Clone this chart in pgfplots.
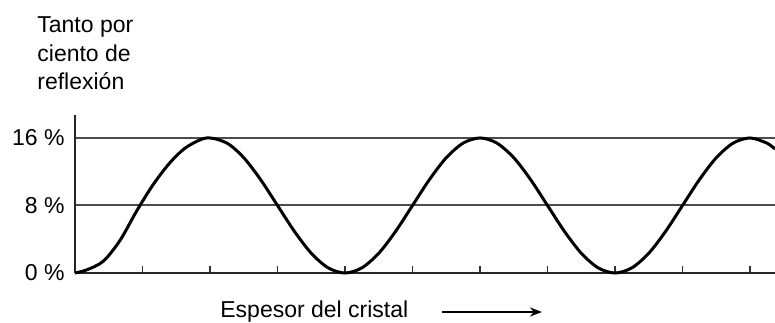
\documentclass[border=0pt]{standalone}
\usepackage{fontspec}
\setmainfont{Liberation Sans}
\usepackage{pgfplots}
\pgfplotsset{compat=1.18}
\usetikzlibrary{arrows.meta}

\begin{document}
\begin{tikzpicture}
\path[use as bounding box] (-37.5pt,-24.5pt) rectangle (350pt,136.5pt);
\begin{axis}[
    at={(0,0)}, anchor=south west,
    scale only axis,
    width=350pt, height=79pt,
    xmin=0, xmax=10.37,
    ymin=0, ymax=18.72,
    axis x line=bottom,
    axis y line=left,
    axis line style={-, line width=1.2pt, black!85},
    xtick={1,2,...,10},
    xticklabels={},
    tick align=inside,
    major tick length=3.5pt,
    xtick style={line width=0.9pt, black!80},
    ytick={0,8,16},
    yticklabels={0 \%, 8 \%, 16 \%},
    ytick style={draw=none},
    yticklabel style={anchor=east, inner sep=0pt, xshift=-5pt},
    tick label style={font=\fontsize{11.5}{13}\selectfont},
    ymajorgrids=true,
    grid style={line width=1pt, black!70},
    clip=false,
]
\addplot[black, line width=1.5pt, smooth] coordinates {
    (0,0) (0.17,0.36) (0.42,1.4) (0.67,3.9) (0.91,7.3) (1.16,10.5)
    (1.41,13.1) (1.65,14.9) (1.95,16)
    (2.25,15.39) (2.5,13.66) (2.75,11.06) (3,8) (3.25,4.94) (3.5,2.34) (3.75,0.61)
    (4,0) (4.25,0.61) (4.5,2.34) (4.75,4.94) (5,8) (5.25,11.06) (5.5,13.66) (5.75,15.39)
    (6,16) (6.25,15.39) (6.5,13.66) (6.75,11.06) (7,8) (7.25,4.94) (7.5,2.34) (7.75,0.61)
    (8,0) (8.25,0.61) (8.5,2.34) (8.75,4.94) (9,8) (9.25,11.06) (9.5,13.66) (9.75,15.39)
    (10,16) (10.25,15.39) (10.37,14.69)
};
\end{axis}
% y-axis title, three lines
\node[anchor=base west, inner sep=0pt, font=\fontsize{11.5}{13}\selectfont] at (-19pt,120pt) {Tanto por};
\node[anchor=base west, inner sep=0pt, font=\fontsize{11.5}{13}\selectfont] at (-19pt,106pt) {ciento de};
\node[anchor=base west, inner sep=0pt, font=\fontsize{11.5}{13}\selectfont] at (-19pt,92pt) {reflexión};
% x-axis label with arrow
\node[anchor=base west, inner sep=0pt, font=\fontsize{11.5}{13}\selectfont] at (72.5pt,-22pt) {Espesor del cristal};
\draw[line width=1pt, -{Stealth[length=6pt,width=4.5pt]}] (183.5pt,-19.5pt) -- (233.5pt,-19.5pt);
\end{tikzpicture}
\end{document}
